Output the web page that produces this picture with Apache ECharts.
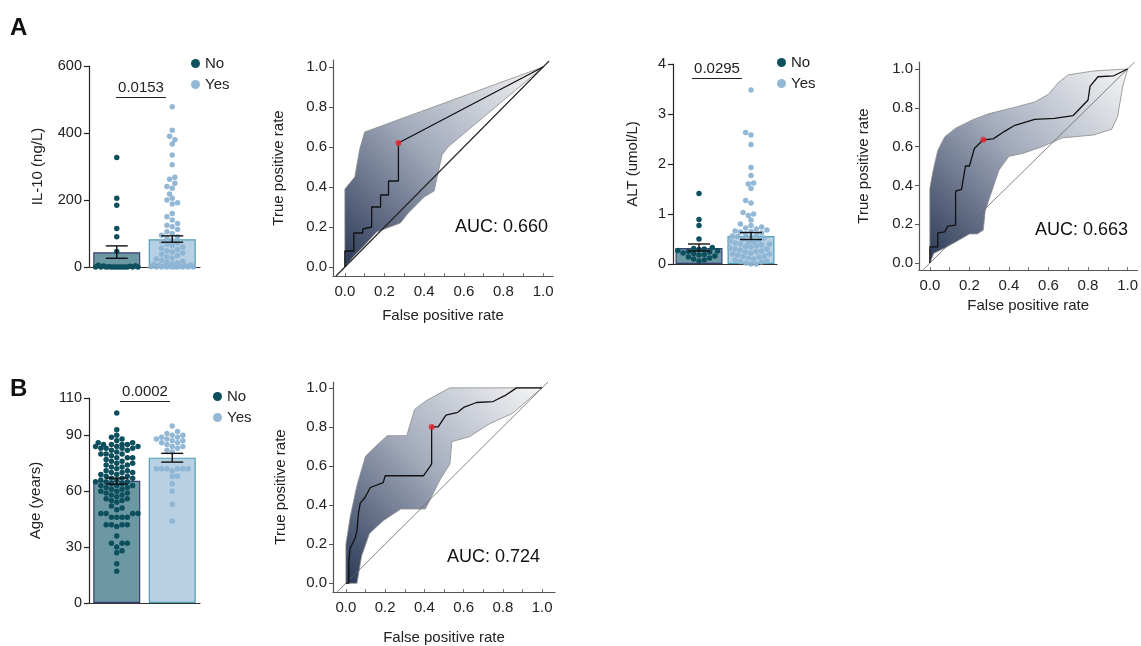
<!DOCTYPE html>
<html><head><meta charset="utf-8">
<script src="https://cdn.jsdelivr.net/npm/echarts@6/dist/echarts.min.js"></script>
<style>html,body{margin:0;padding:0;background:#fff}#c{width:1141px;height:646px}</style>
</head><body><div id="c"></div>
<script>
// ---------------- DATA ----------------
const groups = ['No', 'Yes'];

const il10No = [327, 205, 184, 115, 90, 46, 5, 4, 3, 2, 1, 0, 0, 0, 0, 0, 0, 0, 0, 0, 0, 0, 0];
const il10Yes = [478, 408, 390, 380, 367, 334, 305, 268, 262, 250, 240, 235, 218, 205, 200, 192, 188, 160, 150, 140, 130, 125, 120, 112, 105, 100, 95, 90, 85, 80, 76, 72, 68, 64, 60, 56, 52, 48, 45, 42, 38, 34, 30, 27, 24, 20, 17, 14, 12, 10, 8, 6, 5, 4, 3, 2, 2, 1, 1, 0, 0, 0, 0, 0, 0, 0, 0];
const il10Mean = [44, 83];
const il10Err = [[26, 63], [74, 93]];
const il10P = '0.0153';

const altNo = [1.41, 0.89, 0.77, 0.5, 0.33, 0.31, 0.3, 0.29, 0.27, 0.26, 0.25, 0.24, 0.22, 0.21, 0.19, 0.18, 0.16, 0.14, 0.12, 0.1, 0.08, 0.06];
const altYes = [3.48, 2.63, 2.58, 2.39, 1.93, 1.77, 1.62, 1.6, 1.51, 1.27, 1.22, 1.03, 1.0, 0.97, 0.88, 0.8, 0.77, 0.74, 0.72, 0.7, 0.68, 0.66, 0.65, 0.64, 0.62, 0.6, 0.58, 0.56, 0.55, 0.54, 0.52, 0.5, 0.48, 0.46, 0.45, 0.44, 0.42, 0.4, 0.4, 0.38, 0.36, 0.35, 0.34, 0.32, 0.3, 0.3, 0.28, 0.26, 0.25, 0.24, 0.22, 0.2, 0.2, 0.18, 0.16, 0.15, 0.14, 0.12, 0.1, 0.08, 0.06, 0.05, 0.04, 0.02, 0.0, 0.0];
const altMean = [0.32, 0.56];
const altErr = [[0.26, 0.40], [0.49, 0.63]];
const altP = '0.0295';

const ageNo = [102, 93, 90, 89, 88, 87, 86, 86, 85, 85, 85, 85, 84, 84, 84, 83, 83, 83, 83, 82, 82, 81, 80, 80, 80, 79, 78, 78, 78, 77, 76, 76, 75, 75, 74, 74, 73, 73, 72, 71, 71, 70, 70, 70, 69, 69, 68, 68, 67, 67, 67, 66, 66, 65, 65, 65, 64, 64, 63, 63, 63, 62, 62, 61, 61, 60, 60, 59, 59, 58, 58, 57, 56, 56, 55, 55, 54, 52, 51, 50, 48, 48, 48, 48, 46, 46, 46, 46, 42, 42, 42, 42, 41, 36, 32, 32, 32, 30, 28, 27, 21, 17];
const ageYes = [95, 92, 91, 90, 90, 89, 89, 88, 88, 87, 87, 86, 86, 85, 84, 84, 83, 82, 81, 72, 72, 72, 72, 72, 72, 71, 68, 68, 64, 60, 53, 44];
const ageMean = [65.6, 78];
const ageErr = [[63.8, 67], [75.6, 80.3]];
const ageP = '0.0002';

// ROC curves [fpr, tpr]
const roc1Curve = [[0,0],[0,0.08],[0.045,0.08],[0.045,0.17],[0.09,0.17],[0.09,0.19],[0.1,0.2],[0.135,0.2],[0.135,0.3],[0.18,0.3],[0.18,0.36],[0.22,0.36],[0.22,0.43],[0.27,0.43],[0.27,0.62],[1.0,1.0]];
const roc1Upper = [[0,0],[0,0.39],[0.05,0.45],[0.075,0.59],[0.1,0.675],[1.0,1.0]];
const roc1Lower = [[0,0],[0.05,0.06],[0.1,0.11],[0.16,0.175],[0.28,0.22],[0.32,0.27],[0.4,0.35],[0.45,0.38],[0.49,0.56],[0.52,0.6],[1.0,1.0]];
const roc1Cut = [0.27, 0.62];
const roc1Auc = 'AUC: 0.660';

const roc2Curve = [[0,0],[0,0.083],[0.04,0.083],[0.04,0.155],[0.075,0.16],[0.09,0.19],[0.13,0.195],[0.13,0.37],[0.16,0.38],[0.18,0.5],[0.2,0.5],[0.225,0.59],[0.27,0.635],[0.32,0.64],[0.38,0.68],[0.43,0.71],[0.53,0.74],[0.63,0.745],[0.725,0.76],[0.8,0.84],[0.81,0.91],[0.85,0.96],[0.93,0.965],[1.0,1.0]];
const roc2Upper = [[0,0],[0,0.385],[0.017,0.48],[0.04,0.58],[0.075,0.65],[0.13,0.695],[0.22,0.74],[0.3,0.77],[0.42,0.8],[0.53,0.83],[0.6,0.87],[0.65,0.93],[0.7,0.97],[0.83,0.99],[1.0,1.0]];
const roc2Lower = [[0,0],[0.02,0.05],[0.08,0.08],[0.15,0.12],[0.2,0.15],[0.24,0.15],[0.27,0.17],[0.28,0.27],[0.32,0.39],[0.35,0.48],[0.4,0.55],[0.47,0.565],[0.57,0.6],[0.67,0.645],[0.83,0.66],[0.92,0.69],[0.95,0.755],[0.975,0.91],[1.0,1.0]];
const roc2Cut = [0.27, 0.635];
const roc2Auc = 'AUC: 0.663';

const roc3Curve = [[0,0],[0.015,0],[0.015,0.12],[0.022,0.18],[0.047,0.23],[0.056,0.27],[0.064,0.36],[0.073,0.41],[0.098,0.44],[0.124,0.49],[0.19,0.515],[0.2,0.55],[0.395,0.55],[0.437,0.61],[0.437,0.8],[0.47,0.8],[0.51,0.86],[0.57,0.875],[0.6,0.9],[0.666,0.925],[0.75,0.93],[0.81,0.96],[0.87,1.0],[1.0,1.0]];
const roc3Upper = [[0,0],[0,0.2],[0.022,0.34],[0.056,0.5],[0.1,0.65],[0.14,0.69],[0.21,0.755],[0.31,0.755],[0.35,0.89],[0.41,0.935],[0.53,1.0],[0.93,1.0],[1.0,1.0]];
const roc3Lower = [[0,0],[0.056,0],[0.08,0.14],[0.12,0.255],[0.19,0.32],[0.28,0.38],[0.405,0.38],[0.48,0.53],[0.53,0.61],[0.54,0.725],[0.63,0.75],[0.73,0.815],[0.85,0.87],[0.93,0.94],[1.0,1.0]];
const roc3Cut = [0.437, 0.8];
const roc3Auc = 'AUC: 0.724';

const rocTicks = [0, 0.2, 0.4, 0.6, 0.8, 1.0];
const rocMinorTicks = [0, 0.1, 0.2, 0.3, 0.4, 0.5, 0.6, 0.7, 0.8, 0.9, 1.0];

// ---------------- STYLE ----------------
const FONT = 'Liberation Sans, Arial, sans-serif';
const C_NO = '#0e4f5e', C_YES = '#8db4d4';
const BAR_STY = [
  {color: '#6b98a3', borderColor: '#3b3f70', borderWidth: 1.2},
  {color: '#b8d0e3', borderColor: '#4e9fb0', borderWidth: 1.2}
];
const grids = [
  {left: 89, top: 66, width: 111, height: 201},
  {left: 333, top: 60, width: 220, height: 216},
  {left: 673, top: 64, width: 104, height: 200},
  {left: 919, top: 62, width: 221, height: 208},
  {left: 89, top: 398, width: 111, height: 205},
  {left: 333, top: 382, width: 222, height: 215}
];

// beeswarm layout of dots (pixel based), returns x offsets in axis units
function swarm(vals, pxPerY, pxPerX, d, maxHalf) {
  const idx = vals.map((v, i) => i).sort((a, b) => vals[a] - vals[b]);
  const placed = [];
  const offs = new Array(vals.length).fill(0);
  const step = d * 0.5;
  idx.forEach((i, n) => {
    const y = vals[i] * pxPerY;
    let best = 0, bestScore = -1;
    const cands = [0];
    for (let k = 1; k * step <= maxHalf; k++) {
      if (n % 2) cands.push(k * step, -k * step); else cands.push(-k * step, k * step);
    }
    for (const o of cands) {
      let md = Infinity;
      for (const p of placed) {
        const dy = p[1] - y;
        if (Math.abs(dy) >= d) continue;
        const dist = Math.hypot(p[0] - o, dy);
        if (dist < md) md = dist;
      }
      if (md >= d * 0.95) { best = o; bestScore = Infinity; break; }
      if (md > bestScore) { bestScore = md; best = o; }
    }
    placed.push([best, y]);
    offs[i] = best / pxPerX;
  });
  return offs;
}

function barAxes(gi, yMax, yInt, yName, nameGap) {
  const x = [
    {type: 'category', gridIndex: gi, data: groups, axisLine: {onZero: true, lineStyle: {color: '#333', width: 1.2}}, axisTick: {show: false}, axisLabel: {show: false}},
    {type: 'value', gridIndex: gi, min: -0.5, max: 1.5, show: false, axisLine: {onZero: false}}
  ];
  const y = {type: 'value', gridIndex: gi, min: 0, max: yMax, interval: yInt,
    name: yName, nameLocation: 'middle', nameGap: nameGap, nameTextStyle: {fontFamily: FONT, fontSize: 15, color: '#222'},
    axisLine: {show: true, onZero: false, lineStyle: {color: '#222', width: 1.2}},
    axisTick: {show: true, length: 5, lineStyle: {color: '#222', width: 1.2}},
    axisLabel: {fontFamily: FONT, fontSize: 14.5, color: '#222', margin: 7},
    splitLine: {show: false}};
  return {x, y};
}

function rocAxes(gi, xr, yr, nameGapX, nameGapY) {
  const common = {nameLocation: 'middle', nameTextStyle: {fontFamily: FONT, fontSize: 15, color: '#222'},
    axisLine: {show: true, onZero: false, lineStyle: {color: '#555', width: 1.2}}, splitLine: {show: false}};
  const x = Object.assign({type: 'value', gridIndex: gi, min: xr[0], max: xr[1], name: 'False positive rate', nameGap: nameGapX,
    axisTick: {show: true, inside: true, length: 3, customValues: rocMinorTicks, lineStyle: {color: '#777'}},
    axisLabel: {customValues: rocTicks, formatter: v => v.toFixed(1), fontFamily: FONT, fontSize: 15, color: '#222', margin: 8}}, common);
  const y = Object.assign({type: 'value', gridIndex: gi, min: yr[0], max: yr[1], name: 'True positive rate', nameGap: nameGapY,
    axisTick: {show: true, length: 4, customValues: rocTicks, lineStyle: {color: '#555'}},
    axisLabel: {customValues: rocTicks, formatter: v => v.toFixed(1), fontFamily: FONT, fontSize: 15, color: '#222', margin: 6}}, common);
  return {x, y};
}

function barSeries(xc, xv, yi, grid, yMax, noV, yesV, mean, err, pText, sigX, sigY) {
  const pxY = grid.height / yMax, pxX = grid.width / 2;
  const offNo = swarm(noV, pxY, pxX, 5.3, 22);
  const offYes = swarm(yesV, pxY, pxX, 5.3, 22);
  return [
    {type: 'bar', xAxisIndex: xc, yAxisIndex: yi, barWidth: 47, z: 2, silent: true,
      data: mean.map((m, i) => ({value: m, itemStyle: BAR_STY[i]}))},
    {type: 'scatter', name: 'No', xAxisIndex: xv, yAxisIndex: yi, symbolSize: 5.5, z: 3, silent: true,
      itemStyle: {color: C_NO, opacity: 1},
      data: noV.map((v, i) => [0 + offNo[i], v]),
      markLine: {silent: true, symbol: ['none', 'none'], lineStyle: {color: '#222', width: 1.2, type: 'solid'},
        label: {show: true, position: 'insideMiddleTop', distance: 2, formatter: pText, fontFamily: FONT, fontSize: 15, color: '#222'},
        data: [[{coord: [sigX[0], sigY]}, {coord: [sigX[1], sigY]}]]}},
    {type: 'scatter', name: 'Yes', xAxisIndex: xv, yAxisIndex: yi, symbolSize: 5.5, z: 3, silent: true,
      itemStyle: {color: C_YES, opacity: 0.95},
      data: yesV.map((v, i) => [1 + offYes[i], v])},
    {type: 'custom', xAxisIndex: xc, yAxisIndex: yi, z: 5, silent: true,
      encode: {x: 0, y: [1, 2]},
      data: err.map((e, i) => [i, e[0], e[1]]),
      renderItem: (params, api) => {
        const x = api.value(0), a = api.coord([x, api.value(1)]), b = api.coord([x, api.value(2)]);
        const w = 11, st = {stroke: '#111', lineWidth: 1.4};
        return {type: 'group', children: [
          {type: 'line', shape: {x1: a[0], y1: a[1], x2: b[0], y2: b[1]}, style: st},
          {type: 'line', shape: {x1: a[0] - w, y1: a[1], x2: a[0] + w, y2: a[1]}, style: st},
          {type: 'line', shape: {x1: b[0] - w, y1: b[1], x2: b[0] + w, y2: b[1]}, style: st}
        ]};
      }}
  ];
}

function rocSeries(xi, yi, curve, upper, lower, cut, diag, diagStyle) {
  const poly = upper.concat(lower.slice().reverse());
  return [
    {type: 'custom', xAxisIndex: xi, yAxisIndex: yi, z: 1, silent: true, data: [[0, 0]],
      renderItem: (params, api) => ({type: 'polygon', shape: {points: poly.map(p => api.coord(p))},
        style: {fill: new echarts.graphic.LinearGradient(0, 1, 1, 0, [
          {offset: 0, color: '#2b3957'}, {offset: 0.5, color: '#a2aabb'}, {offset: 1, color: '#f6f6f6'}]),
          stroke: '#8a8a8a', lineWidth: 0.8}})},
    {type: 'line', xAxisIndex: xi, yAxisIndex: yi, z: 2, silent: true, symbol: 'none',
      lineStyle: diagStyle, data: diag},
    {type: 'line', xAxisIndex: xi, yAxisIndex: yi, z: 3, silent: true, symbol: 'none',
      lineStyle: {color: '#111', width: 1.3}, data: curve},
    {type: 'scatter', xAxisIndex: xi, yAxisIndex: yi, z: 4, silent: true, symbolSize: 6,
      itemStyle: {color: '#e8232a'}, data: [cut]}
  ];
}

// ---------------- BUILD ----------------
const a1 = barAxes(0, 600, 200, 'IL-10 (ng/L)', 44);
const r1 = rocAxes(1, [-0.06, 1.05], [-0.045, 1.035], 32, 47);
const a3 = barAxes(2, 4, 1, 'ALT (umol/L)', 33);
const r2 = rocAxes(3, [-0.055, 1.05], [-0.036, 1.036], 28, 48);
const b1 = barAxes(4, 110, 30, 'Age (years)', 46);
const r3 = rocAxes(5, [-0.066, 1.066], [-0.045, 1.03], 38, 45);

const xAxis = [a1.x[0], a1.x[1], r1.x, a3.x[0], a3.x[1], r2.x, b1.x[0], b1.x[1], r3.x];
const yAxis = [a1.y, r1.y, a3.y, r2.y, b1.y, r3.y];

const diagDark = {color: '#222', width: 1.1};
const diagGray = {color: '#666', width: 0.8};

const series = [].concat(
  barSeries(0, 1, 0, grids[0], 600, il10No, il10Yes, il10Mean, il10Err, il10P, [-0.014, 0.887], 507),
  rocSeries(2, 1, roc1Curve, roc1Upper, roc1Lower, roc1Cut, [[-0.045, -0.045], [1.03, 1.03]], diagDark),
  barSeries(3, 4, 2, grids[2], 4, altNo, altYes, altMean, altErr, altP, [-0.135, 0.827], 3.72),
  rocSeries(5, 3, roc2Curve, roc2Upper, roc2Lower, roc2Cut, [[-0.036, -0.036], [1.036, 1.036]], diagGray),
  barSeries(6, 7, 4, grids[4], 110, ageNo, ageYes, ageMean, ageErr, ageP, [0.059, 0.959], 108.4),
  rocSeries(8, 5, roc3Curve, roc3Upper, roc3Lower, roc3Cut, [[-0.045, -0.045], [1.03, 1.03]], diagGray)
);

const legendBase = {orient: 'vertical', data: groups, icon: 'circle', itemWidth: 9, itemHeight: 9, itemGap: 6,
  selectedMode: false, textStyle: {fontFamily: FONT, fontSize: 15, color: '#222'}};
const legend = [
  Object.assign({left: 186, top: 51}, legendBase),
  Object.assign({left: 772, top: 50}, legendBase),
  Object.assign({left: 208, top: 384}, legendBase)
];

const txt = (t, x, y, size, bold) => ({type: 'text', left: x, top: y, silent: true,
  style: {text: t, fontFamily: FONT, fontSize: size, fontWeight: bold ? 'bold' : 'normal', fill: '#111'}});
const graphic = [
  txt('A', 10, 16, 24, true),
  txt('B', 10, 377, 24, true),
  txt(roc1Auc, 455, 218, 18, false),
  txt(roc2Auc, 1035, 221, 18, false),
  txt(roc3Auc, 447, 548, 18, false)
];

const chart = echarts.init(document.getElementById('c'), null, {renderer: 'canvas'});
chart.setOption({
  animation: false,
  backgroundColor: '#fff',
  textStyle: {fontFamily: FONT},
  grid: grids,
  xAxis, yAxis, series, legend, graphic
});
</script></body></html>
